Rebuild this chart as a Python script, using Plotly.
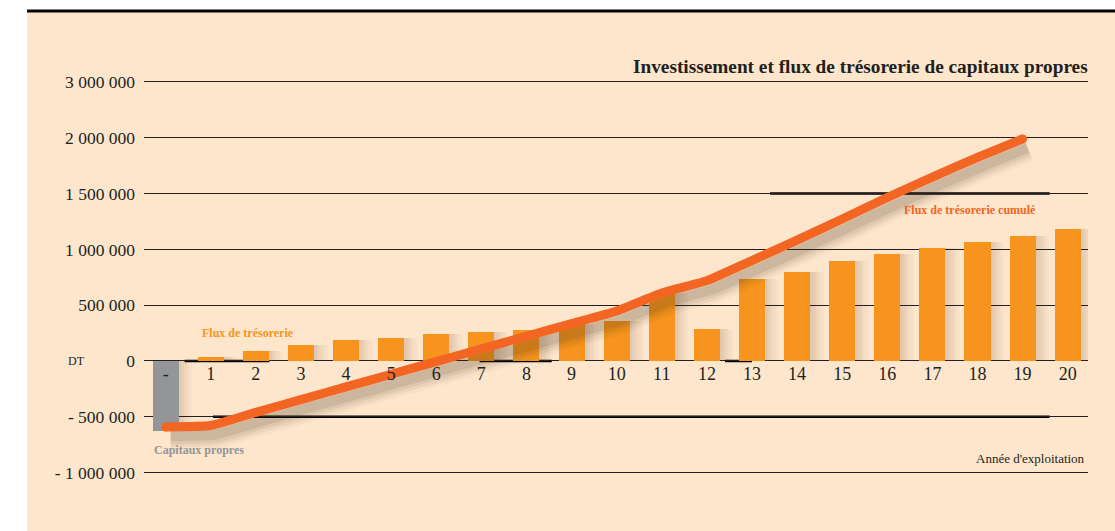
import plotly.graph_objects as go

# ---- data -------------------------------------------------------------
years = ["-"] + [str(i) for i in range(1, 21)]
equity = [-625000]                      # capitaux propres (year "-")
cash_flow = [36000, 90000, 143000, 188000, 209000, 242000, 260000, 278000,
             332000, 359000, 610000, 287000, 732000, 797000, 896000, 959000,
             1013000, 1066000, 1123000, 1183000]
cumulative = [-591000, -578000, -460000, -346000, -232000, -119000, -5000,
              108000, 222000, 335000, 448000, 610000, 720000, 900000,
              1083000, 1272000, 1465000, 1648000, 1825000, 1990000]
y_tickvals = [-1000000, -500000, 0, 500000, 1000000, 1500000, 2000000, 2500000]
y_ticktext = ["- 1 000 000", "- 500 000", "0", "500 000", "1 000 000",
              "1 500 000", "2 000 000", "3 000 000"]

# ---- styling ----------------------------------------------------------
PEACH = "#FDE6CC"
ORANGE = "#F7941D"
RED_ORANGE = "#F26522"
GREY = "#939598"
INK = "#231F20"
SERIF = "Liberation Serif, Times New Roman, serif"

W, H = 1115, 531
M = dict(l=144, r=27, t=40, b=31)
XR = [-0.48, 20.45]
YR = [-1245500, 2876000]
px_x = (W - M["l"] - M["r"]) / (XR[1] - XR[0])     # pixels per category
px_y = (H - M["t"] - M["b"]) / (YR[1] - YR[0])     # pixels per DT

xs_eq = [0]
xs_cf = list(range(1, len(cash_flow) + 1))
xs_cum = list(range(len(cumulative)))
all_bars = equity + cash_flow

fig = go.Figure()

# soft shadows behind the bars
for k, a in [(0.30, 0.025), (0.24, 0.03), (0.18, 0.035), (0.12, 0.04), (0.06, 0.045)]:
    fig.add_trace(go.Bar(x=[x + k for x in xs_eq + xs_cf], y=all_bars,
                         width=0.577, marker=dict(color=f"rgba(90,60,30,{a})", line_width=0),
                         hoverinfo="skip", showlegend=False))

fig.add_trace(go.Bar(x=xs_eq, y=equity, width=0.577, name="Capitaux propres",
                     marker=dict(color=GREY, line_width=0), showlegend=False))
fig.add_trace(go.Bar(x=xs_cf, y=cash_flow, width=0.577, name="Flux de trésorerie",
                     marker=dict(color=ORANGE, line_width=0), showlegend=False))

# blurred drop shadow of the cumulative line
dx, dy = 5 / px_x, 9 / px_y
for w_, a in [(28, 0.04), (22, 0.06), (16, 0.08), (10, 0.11)]:
    fig.add_trace(go.Scatter(x=[x + dx for x in xs_cum], y=[v - dy for v in cumulative],
                             mode="lines", line=dict(color=f"rgba(70,45,25,{a})", width=w_,
                                                     shape="spline", smoothing=0.4),
                             hoverinfo="skip", showlegend=False))

fig.add_trace(go.Scatter(x=xs_cum, y=cumulative, mode="lines",
                         name="Flux de trésorerie cumulé",
                         line=dict(color=RED_ORANGE, width=9, shape="spline", smoothing=0.4),
                         showlegend=False))
# round caps at both ends
fig.add_trace(go.Scatter(x=[xs_cum[0], xs_cum[-1]], y=[cumulative[0], cumulative[-1]],
                         mode="markers", marker=dict(color=RED_ORANGE, size=9),
                         hoverinfo="skip", showlegend=False))

fig.update_layout(
    width=W, height=H, margin=M,
    paper_bgcolor=PEACH, plot_bgcolor="rgba(0,0,0,0)",
    barmode="overlay", bargap=0,
    font=dict(family=SERIF, color=INK),
    xaxis=dict(range=XR, tickvals=list(range(len(years))), ticktext=years,
               anchor="free", position=(0 - YR[0]) / (YR[1] - YR[0]),
               showgrid=False, zeroline=False, showline=False, ticks="",
               tickfont=dict(size=18, color=INK), fixedrange=True),
    yaxis=dict(range=YR, tickvals=y_tickvals, ticktext=y_ticktext,
               showgrid=True, gridcolor=INK, gridwidth=1, zeroline=False,
               showline=False, ticks="", ticklabelstandoff=8,
               tickfont=dict(size=17.5, color=INK), fixedrange=True),
)

# page frame: white margins and the heavy rule at the top
def px2paper_x(p):
    return (p - M["l"]) / (W - M["l"] - M["r"])

def px2paper_y(p):
    return (H - M["b"] - p) / (H - M["t"] - M["b"])

fig.add_shape(type="rect", xref="paper", yref="paper", layer="below",
              x0=px2paper_x(-5), x1=px2paper_x(27), y0=px2paper_y(540), y1=px2paper_y(-5),
              fillcolor="white", line_width=0)
fig.add_shape(type="rect", xref="paper", yref="paper", layer="below",
              x0=px2paper_x(-5), x1=px2paper_x(1120), y0=px2paper_y(10), y1=px2paper_y(-5),
              fillcolor="white", line_width=0)
fig.add_shape(type="line", xref="paper", yref="paper",
              x0=px2paper_x(27), x1=px2paper_x(1120), y0=px2paper_y(11), y1=px2paper_y(11),
              line=dict(color="black", width=3))

# heavier segments of the rules
for y0, a, b, w_ in [(-500000, 1.05, 19.6, 2.5), (1500000, 13.4, 19.6, 2.5),
                     (0, 0.42, 2.3, 2.5), (0, 6.96, 8.56, 2.5), (0, 12.4, 13.0, 2.5)]:
    fig.add_shape(type="line", xref="x", yref="y", x0=a, x1=b, y0=y0, y1=y0,
                  line=dict(color="black", width=w_), layer="below")

# text labels
fig.add_annotation(text="<b>Investissement et flux de trésorerie de capitaux propres</b>",
                   xref="paper", yref="paper", x=px2paper_x(1090), y=px2paper_y(66),
                   xanchor="right", yanchor="middle", showarrow=False,
                   font=dict(size=19.3, color=INK, family=SERIF))
fig.add_annotation(text="DT", xref="paper", yref="y", x=px2paper_x(76), y=0,
                   xanchor="center", yanchor="middle", showarrow=False,
                   font=dict(size=12, color=INK, family=SERIF))
fig.add_annotation(text="<b>Flux de trésorerie</b>", xref="paper", yref="paper",
                   x=px2paper_x(200), y=px2paper_y(333), xanchor="left", yanchor="middle",
                   showarrow=False, font=dict(size=12, color=ORANGE, family=SERIF))
fig.add_annotation(text="<b>Flux de trésorerie cumulé</b>", xref="paper", yref="paper",
                   x=px2paper_x(902), y=px2paper_y(210), xanchor="left", yanchor="middle",
                   showarrow=False, font=dict(size=12, color=RED_ORANGE, family=SERIF))
fig.add_annotation(text="<b>Capitaux propres</b>", xref="paper", yref="paper",
                   x=px2paper_x(152), y=px2paper_y(450), xanchor="left", yanchor="middle",
                   showarrow=False, font=dict(size=12, color=GREY, family=SERIF))
fig.add_annotation(text="Année d'exploitation", xref="paper", yref="paper",
                   x=px2paper_x(1087), y=px2paper_y(458), xanchor="right", yanchor="middle",
                   showarrow=False, font=dict(size=13, color=INK, family=SERIF))

fig.write_html("out.html")
